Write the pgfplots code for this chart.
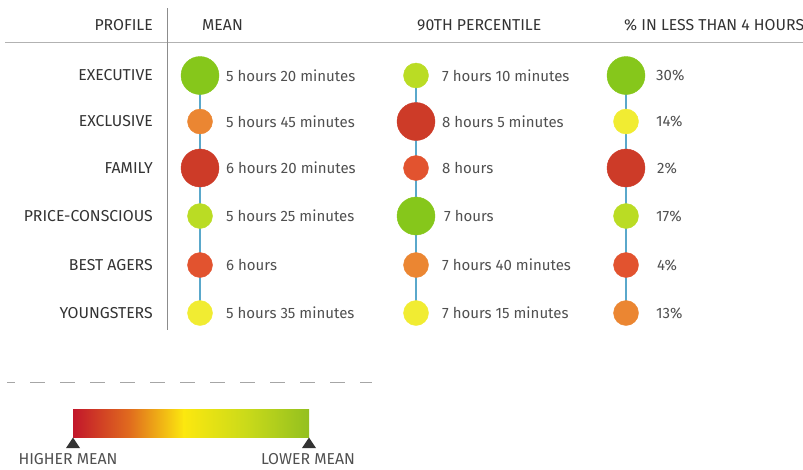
\documentclass[border=0pt]{standalone}
\usepackage{pgfplots}
\pgfplotsset{compat=1.18}
\usepackage{pgfplotstable}
\usepackage{fontspec}
\setmainfont{Fira Sans}
\definecolor{cG}{HTML}{86C71B}
\definecolor{cYG}{HTML}{BADC24}
\definecolor{cY}{HTML}{F1EC32}
\definecolor{cO}{HTML}{EB8632}
\definecolor{cRO}{HTML}{E2532F}
\definecolor{cR}{HTML}{CD3B28}
\definecolor{cline}{HTML}{5AA8CB}
\definecolor{hdr}{HTML}{333333}
\definecolor{val}{HTML}{505050}
\definecolor{gR}{HTML}{C2172B}
\definecolor{gO}{HTML}{E06A1E}
\definecolor{gY}{HTML}{FCE80F}
\definecolor{gYG}{HTML}{CADA1A}
\definecolor{gG}{HTML}{93C01F}
\pgfplotstableread{
x y cls
200 75.5 G
200 121.5 O
200 168 R
200 216 YG
200 265 RO
200 313 Y
416 75.5 YG
416 121.5 R
416 168 RO
416 216 G
416 265 O
416 313 Y
626 75.5 G
626 121.5 Y
626 168 R
626 216 YG
626 265 RO
626 313 O
}\dots
\newcommand\capfont{\fontsize{15.8}{18}\selectfont}
\newcommand\valfont{\fontsize{15}{18}\selectfont}
\begin{document}
\begin{tikzpicture}
\begin{axis}[
  scale only axis, width=803pt, height=469pt,
  xmin=0, xmax=803, ymin=0, ymax=469, y dir=reverse,
  hide axis, clip=false,
]
% grid lines of the table
\addplot[draw=black!30, line width=1pt] coordinates {(5,42) (803,42)};
\addplot[draw=black!45, line width=1pt] coordinates {(167,8) (167,330)};
% connectors
\addplot[draw=cline, line width=1.2pt] coordinates {(200,75.5) (200,313)};
\addplot[draw=cline, line width=1.2pt] coordinates {(416,75.5) (416,313)};
\addplot[draw=cline, line width=1.2pt] coordinates {(626,75.5) (626,313)};
% circles
\addplot[scatter, only marks, scatter src=explicit symbolic,
  scatter/classes={
    G={mark=*, cG, mark size=19pt},
    YG={mark=*, cYG, mark size=12.5pt},
    Y={mark=*, cY, mark size=12.5pt},
    O={mark=*, cO, mark size=12.5pt},
    RO={mark=*, cRO, mark size=12.5pt},
    R={mark=*, cR, mark size=19pt}}
] table[x=x, y=y, meta=cls] {\dots};
% dashed separator
\addplot[draw=black!35, line width=1pt, dash pattern=on 15pt off 15pt, dash phase=7pt] coordinates {(7,382) (372,382)};
% headers
\begin{scope}[every node/.style={font=\capfont, text=hdr, inner sep=0pt}]
\node[anchor=east] at (axis cs:153,25) {PROFILE};
\node[anchor=west] at (axis cs:202,25) {MEAN};
\node[anchor=west] at (axis cs:417,25) {90TH PERCENTILE};
\node[anchor=west] at (axis cs:624,25) {\% IN LESS THAN 4 HOURS};
\node[anchor=east] at (axis cs:153,75.5) {EXECUTIVE};
\node[anchor=east] at (axis cs:153,121.5) {EXCLUSIVE};
\node[anchor=east] at (axis cs:153,168) {FAMILY};
\node[anchor=east] at (axis cs:153,216) {PRICE-CONSCIOUS};
\node[anchor=east] at (axis cs:153,265) {BEST AGERS};
\node[anchor=east] at (axis cs:153,313) {YOUNGSTERS};
\end{scope}
\begin{scope}[every node/.style={font=\valfont, text=val, inner sep=0pt, anchor=west}]
\node at (axis cs:226,75.5) {5 hours 20 minutes};
\node at (axis cs:226,121.5) {5 hours 45 minutes};
\node at (axis cs:226,168) {6 hours 20 minutes};
\node at (axis cs:226,216) {5 hours 25 minutes};
\node at (axis cs:226,265) {6 hours};
\node at (axis cs:226,313) {5 hours 35 minutes};
\node at (axis cs:442,75.5) {7 hours 10 minutes};
\node at (axis cs:442,121.5) {8 hours 5 minutes};
\node at (axis cs:442,168) {8 hours};
\node at (axis cs:444,216) {7 hours};
\node at (axis cs:442,265) {7 hours 40 minutes};
\node at (axis cs:442,313) {7 hours 15 minutes};
\node at (axis cs:656,75.5) {30\%};
\node at (axis cs:656,121.5) {14\%};
\node at (axis cs:657,168) {2\%};
\node at (axis cs:656,216) {17\%};
\node at (axis cs:657,265) {4\%};
\node at (axis cs:656,313) {13\%};
\end{scope}
% gradient legend
\shade[left color=gR, right color=gY, middle color=gO] (axis cs:73,409) rectangle (axis cs:184,437);
\shade[left color=gY, right color=gG, middle color=gYG] (axis cs:183.5,409) rectangle (axis cs:309,437);
\fill[hdr] (axis cs:73,437.5) -- (axis cs:80,448) -- (axis cs:66,448) -- cycle;
\fill[hdr] (axis cs:309,437.5) -- (axis cs:316,448) -- (axis cs:302,448) -- cycle;
\node[font=\capfont, text=val, inner sep=0pt] at (axis cs:68,459) {HIGHER MEAN};
\node[font=\capfont, text=val, inner sep=0pt] at (axis cs:308,459) {LOWER MEAN};
\end{axis}
\pgfresetboundingbox
\path[use as bounding box] (current axis.south west) rectangle (current axis.north east);
\end{tikzpicture}
\end{document}
